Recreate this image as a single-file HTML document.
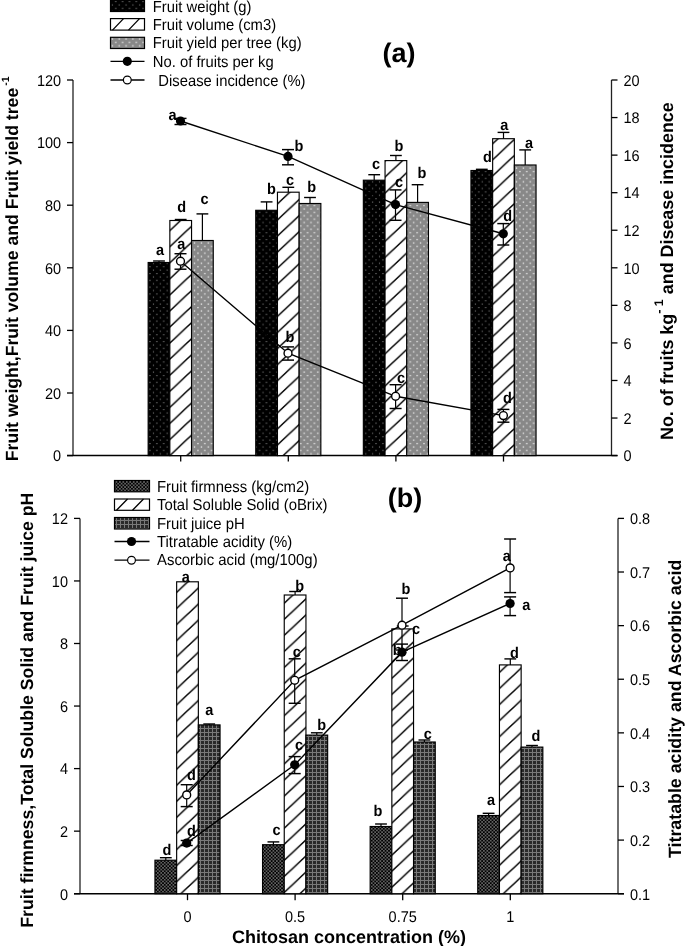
<!DOCTYPE html>
<html><head><meta charset="utf-8"><title>Chart</title>
<style>
html,body{margin:0;padding:0;background:#fff;}
body{width:685px;height:946px;overflow:hidden;}
svg{display:block;font-family:"Liberation Sans", sans-serif;text-rendering:geometricPrecision;filter:grayscale(1);}
</style></head><body>
<svg width="685" height="946" viewBox="0 0 685 946" font-family='"Liberation Sans", sans-serif'>
<defs><pattern id="ha0" patternUnits="userSpaceOnUse" width="17.096" height="16.07" x="0" y="4.538"><rect x="-1" y="-1" width="19.096" height="18.07" fill="#fff"/><path d="M-17.096,32.140 L34.191,-16.070 M-17.096,16.070 L17.096,-16.070 M0,32.140 L34.191,0" stroke="#000" stroke-width="1.5"/></pattern><pattern id="ha1" patternUnits="userSpaceOnUse" width="17.096" height="16.07" x="0" y="14.720"><rect x="-1" y="-1" width="19.096" height="18.07" fill="#fff"/><path d="M-17.096,32.140 L34.191,-16.070 M-17.096,16.070 L17.096,-16.070 M0,32.140 L34.191,0" stroke="#000" stroke-width="1.5"/></pattern><pattern id="ha2" patternUnits="userSpaceOnUse" width="17.096" height="16.07" x="0" y="8.662"><rect x="-1" y="-1" width="19.096" height="18.07" fill="#fff"/><path d="M-17.096,32.140 L34.191,-16.070 M-17.096,16.070 L17.096,-16.070 M0,32.140 L34.191,0" stroke="#000" stroke-width="1.5"/></pattern><pattern id="ha3" patternUnits="userSpaceOnUse" width="17.096" height="16.07" x="0" y="12.210"><rect x="-1" y="-1" width="19.096" height="18.07" fill="#fff"/><path d="M-17.096,32.140 L34.191,-16.070 M-17.096,16.070 L17.096,-16.070 M0,32.140 L34.191,0" stroke="#000" stroke-width="1.5"/></pattern><pattern id="hb0" patternUnits="userSpaceOnUse" width="17.096" height="16.07" x="0" y="3.112"><rect x="-1" y="-1" width="19.096" height="18.07" fill="#fff"/><path d="M-17.096,32.140 L34.191,-16.070 M-17.096,16.070 L17.096,-16.070 M0,32.140 L34.191,0" stroke="#000" stroke-width="1.5"/></pattern><pattern id="hb1" patternUnits="userSpaceOnUse" width="17.096" height="16.07" x="0" y="2.618"><rect x="-1" y="-1" width="19.096" height="18.07" fill="#fff"/><path d="M-17.096,32.140 L34.191,-16.070 M-17.096,16.070 L17.096,-16.070 M0,32.140 L34.191,0" stroke="#000" stroke-width="1.5"/></pattern><pattern id="hb2" patternUnits="userSpaceOnUse" width="17.096" height="16.07" x="0" y="2.148"><rect x="-1" y="-1" width="19.096" height="18.07" fill="#fff"/><path d="M-17.096,32.140 L34.191,-16.070 M-17.096,16.070 L17.096,-16.070 M0,32.140 L34.191,0" stroke="#000" stroke-width="1.5"/></pattern><pattern id="hb3" patternUnits="userSpaceOnUse" width="17.096" height="16.07" x="0" y="0.908"><rect x="-1" y="-1" width="19.096" height="18.07" fill="#fff"/><path d="M-17.096,32.140 L34.191,-16.070 M-17.096,16.070 L17.096,-16.070 M0,32.140 L34.191,0" stroke="#000" stroke-width="1.5"/></pattern>
 <pattern id="pBlackDot" patternUnits="userSpaceOnUse" width="6.85" height="6.8" x="0.3" y="0">
  <rect width="6.85" height="6.8" fill="#000"/>
  <rect x="5.3" y="1" width="1.1" height="1.1" fill="#8a8a8a"/>
  <rect x="1.9" y="4.4" width="1.1" height="1.1" fill="#7a7a7a"/>
 </pattern>
 <pattern id="pHatch" patternUnits="userSpaceOnUse" width="16" height="16">
  <rect width="16" height="16" fill="#fff"/>
  <path d="M-4,20 L20,-4 M-4,4 L4,-4 M12,20 L20,12" stroke="#000" stroke-width="1.3"/>
 </pattern>
 <pattern id="pGray" patternUnits="userSpaceOnUse" width="6.85" height="6.8" x="0.3" y="0">
  <rect width="6.85" height="6.8" fill="#888888"/>
  <rect x="5.2" y="0.9" width="1.3" height="1.3" fill="#f0f0f0"/>
  <rect x="1.8" y="4.3" width="1.3" height="1.3" fill="#f0f0f0"/>
 </pattern>
 <pattern id="pFirm" patternUnits="userSpaceOnUse" width="3.45" height="3.4">
  <rect width="3.45" height="3.4" fill="#000"/>
  <rect x="0.2" y="0.2" width="1.3" height="1.3" fill="#a8a8a8"/>
  <rect x="1.92" y="1.9" width="1.3" height="1.3" fill="#a8a8a8"/>
 </pattern>
 <pattern id="pPH" patternUnits="userSpaceOnUse" width="4" height="4">
  <rect width="4" height="4" fill="#2a2a2a"/>
  <rect x="0" y="0" width="4" height="1" fill="#7a7a7a"/>
  <rect x="0" y="0" width="1" height="4" fill="#7a7a7a"/>
 </pattern>
</defs>

<rect width="685" height="946" fill="#fff"/>
<line x1="73.00" y1="80.00" x2="73.00" y2="455.60" stroke="#222" stroke-width="1.3"/>
<line x1="611.50" y1="80.00" x2="611.50" y2="455.60" stroke="#222" stroke-width="1.3"/>
<line x1="67.00" y1="455.60" x2="617.50" y2="455.60" stroke="#000" stroke-width="1.5"/>
<line x1="67.00" y1="455.60" x2="73.00" y2="455.60" stroke="#000" stroke-width="1.3"/>
<text transform="translate(61.10,461.40) scale(0.9346,1)" font-size="15.52" font-weight="normal" text-anchor="end" >0</text>
<line x1="67.00" y1="393.00" x2="73.00" y2="393.00" stroke="#000" stroke-width="1.3"/>
<text transform="translate(61.10,398.80) scale(0.9346,1)" font-size="15.52" font-weight="normal" text-anchor="end" >20</text>
<line x1="67.00" y1="330.40" x2="73.00" y2="330.40" stroke="#000" stroke-width="1.3"/>
<text transform="translate(61.10,336.20) scale(0.9346,1)" font-size="15.52" font-weight="normal" text-anchor="end" >40</text>
<line x1="67.00" y1="267.80" x2="73.00" y2="267.80" stroke="#000" stroke-width="1.3"/>
<text transform="translate(61.10,273.60) scale(0.9346,1)" font-size="15.52" font-weight="normal" text-anchor="end" >60</text>
<line x1="67.00" y1="205.20" x2="73.00" y2="205.20" stroke="#000" stroke-width="1.3"/>
<text transform="translate(61.10,211.00) scale(0.9346,1)" font-size="15.52" font-weight="normal" text-anchor="end" >80</text>
<line x1="67.00" y1="142.60" x2="73.00" y2="142.60" stroke="#000" stroke-width="1.3"/>
<text transform="translate(61.10,148.40) scale(0.9346,1)" font-size="15.52" font-weight="normal" text-anchor="end" >100</text>
<line x1="67.00" y1="80.00" x2="73.00" y2="80.00" stroke="#000" stroke-width="1.3"/>
<text transform="translate(61.10,85.80) scale(0.9346,1)" font-size="15.52" font-weight="normal" text-anchor="end" >120</text>
<line x1="611.50" y1="455.60" x2="617.50" y2="455.60" stroke="#000" stroke-width="1.3"/>
<text transform="translate(623.50,461.40) scale(0.9346,1)" font-size="15.52" font-weight="normal" text-anchor="start" >0</text>
<line x1="611.50" y1="418.04" x2="617.50" y2="418.04" stroke="#000" stroke-width="1.3"/>
<text transform="translate(623.50,423.84) scale(0.9346,1)" font-size="15.52" font-weight="normal" text-anchor="start" >2</text>
<line x1="611.50" y1="380.48" x2="617.50" y2="380.48" stroke="#000" stroke-width="1.3"/>
<text transform="translate(623.50,386.28) scale(0.9346,1)" font-size="15.52" font-weight="normal" text-anchor="start" >4</text>
<line x1="611.50" y1="342.92" x2="617.50" y2="342.92" stroke="#000" stroke-width="1.3"/>
<text transform="translate(623.50,348.72) scale(0.9346,1)" font-size="15.52" font-weight="normal" text-anchor="start" >6</text>
<line x1="611.50" y1="305.36" x2="617.50" y2="305.36" stroke="#000" stroke-width="1.3"/>
<text transform="translate(623.50,311.16) scale(0.9346,1)" font-size="15.52" font-weight="normal" text-anchor="start" >8</text>
<line x1="611.50" y1="267.80" x2="617.50" y2="267.80" stroke="#000" stroke-width="1.3"/>
<text transform="translate(623.50,273.60) scale(0.9346,1)" font-size="15.52" font-weight="normal" text-anchor="start" >10</text>
<line x1="611.50" y1="230.24" x2="617.50" y2="230.24" stroke="#000" stroke-width="1.3"/>
<text transform="translate(623.50,236.04) scale(0.9346,1)" font-size="15.52" font-weight="normal" text-anchor="start" >12</text>
<line x1="611.50" y1="192.68" x2="617.50" y2="192.68" stroke="#000" stroke-width="1.3"/>
<text transform="translate(623.50,198.48) scale(0.9346,1)" font-size="15.52" font-weight="normal" text-anchor="start" >14</text>
<line x1="611.50" y1="155.12" x2="617.50" y2="155.12" stroke="#000" stroke-width="1.3"/>
<text transform="translate(623.50,160.92) scale(0.9346,1)" font-size="15.52" font-weight="normal" text-anchor="start" >16</text>
<line x1="611.50" y1="117.56" x2="617.50" y2="117.56" stroke="#000" stroke-width="1.3"/>
<text transform="translate(623.50,123.36) scale(0.9346,1)" font-size="15.52" font-weight="normal" text-anchor="start" >18</text>
<line x1="611.50" y1="80.00" x2="617.50" y2="80.00" stroke="#000" stroke-width="1.3"/>
<text transform="translate(623.50,85.80) scale(0.9346,1)" font-size="15.52" font-weight="normal" text-anchor="start" >20</text>
<line x1="180.70" y1="455.60" x2="180.70" y2="461.60" stroke="#000" stroke-width="1.3"/>
<line x1="288.30" y1="455.60" x2="288.30" y2="461.60" stroke="#000" stroke-width="1.3"/>
<line x1="395.90" y1="455.60" x2="395.90" y2="461.60" stroke="#000" stroke-width="1.3"/>
<line x1="503.50" y1="455.60" x2="503.50" y2="461.60" stroke="#000" stroke-width="1.3"/>
<rect x="148.15" y="262.50" width="21.70" height="193.10" fill="url(#pBlackDot)"/>
<rect x="148.15" y="262.50" width="21.70" height="193.10" fill="none" stroke="#000" stroke-width="1.15"/>
<line x1="159.00" y1="261.00" x2="159.00" y2="262.50" stroke="#000" stroke-width="1.2"/>
<line x1="153.10" y1="261.00" x2="164.90" y2="261.00" stroke="#000" stroke-width="1.4"/>
<rect x="169.85" y="220.50" width="21.70" height="235.10" fill="url(#ha0)"/>
<rect x="169.85" y="220.50" width="21.70" height="235.10" fill="none" stroke="#000" stroke-width="1.15"/>
<line x1="180.70" y1="219.50" x2="180.70" y2="220.50" stroke="#000" stroke-width="1.2"/>
<line x1="174.80" y1="219.50" x2="186.60" y2="219.50" stroke="#000" stroke-width="1.4"/>
<rect x="191.55" y="240.50" width="21.70" height="215.10" fill="url(#pGray)"/>
<rect x="191.55" y="240.50" width="21.70" height="215.10" fill="none" stroke="#000" stroke-width="1.15"/>
<line x1="202.40" y1="213.90" x2="202.40" y2="240.50" stroke="#000" stroke-width="1.2"/>
<line x1="196.50" y1="213.90" x2="208.30" y2="213.90" stroke="#000" stroke-width="1.4"/>
<rect x="255.75" y="210.30" width="21.70" height="245.30" fill="url(#pBlackDot)"/>
<rect x="255.75" y="210.30" width="21.70" height="245.30" fill="none" stroke="#000" stroke-width="1.15"/>
<line x1="266.60" y1="201.90" x2="266.60" y2="210.30" stroke="#000" stroke-width="1.2"/>
<line x1="260.70" y1="201.90" x2="272.50" y2="201.90" stroke="#000" stroke-width="1.4"/>
<rect x="277.45" y="192.20" width="21.70" height="263.40" fill="url(#ha1)"/>
<rect x="277.45" y="192.20" width="21.70" height="263.40" fill="none" stroke="#000" stroke-width="1.15"/>
<line x1="288.30" y1="187.30" x2="288.30" y2="192.20" stroke="#000" stroke-width="1.2"/>
<line x1="282.40" y1="187.30" x2="294.20" y2="187.30" stroke="#000" stroke-width="1.4"/>
<rect x="299.15" y="203.50" width="21.70" height="252.10" fill="url(#pGray)"/>
<rect x="299.15" y="203.50" width="21.70" height="252.10" fill="none" stroke="#000" stroke-width="1.15"/>
<line x1="310.00" y1="197.50" x2="310.00" y2="203.50" stroke="#000" stroke-width="1.2"/>
<line x1="304.10" y1="197.50" x2="315.90" y2="197.50" stroke="#000" stroke-width="1.4"/>
<rect x="363.35" y="180.20" width="21.70" height="275.40" fill="url(#pBlackDot)"/>
<rect x="363.35" y="180.20" width="21.70" height="275.40" fill="none" stroke="#000" stroke-width="1.15"/>
<line x1="374.20" y1="174.70" x2="374.20" y2="180.20" stroke="#000" stroke-width="1.2"/>
<line x1="368.30" y1="174.70" x2="380.10" y2="174.70" stroke="#000" stroke-width="1.4"/>
<rect x="385.05" y="160.60" width="21.70" height="295.00" fill="url(#ha2)"/>
<rect x="385.05" y="160.60" width="21.70" height="295.00" fill="none" stroke="#000" stroke-width="1.15"/>
<line x1="395.90" y1="155.50" x2="395.90" y2="160.60" stroke="#000" stroke-width="1.2"/>
<line x1="390.00" y1="155.50" x2="401.80" y2="155.50" stroke="#000" stroke-width="1.4"/>
<rect x="406.75" y="202.40" width="21.70" height="253.20" fill="url(#pGray)"/>
<rect x="406.75" y="202.40" width="21.70" height="253.20" fill="none" stroke="#000" stroke-width="1.15"/>
<line x1="417.60" y1="184.70" x2="417.60" y2="202.40" stroke="#000" stroke-width="1.2"/>
<line x1="411.70" y1="184.70" x2="423.50" y2="184.70" stroke="#000" stroke-width="1.4"/>
<rect x="470.95" y="170.50" width="21.70" height="285.10" fill="url(#pBlackDot)"/>
<rect x="470.95" y="170.50" width="21.70" height="285.10" fill="none" stroke="#000" stroke-width="1.15"/>
<line x1="481.80" y1="169.30" x2="481.80" y2="170.50" stroke="#000" stroke-width="1.2"/>
<line x1="475.90" y1="169.30" x2="487.70" y2="169.30" stroke="#000" stroke-width="1.4"/>
<rect x="492.65" y="138.70" width="21.70" height="316.90" fill="url(#ha3)"/>
<rect x="492.65" y="138.70" width="21.70" height="316.90" fill="none" stroke="#000" stroke-width="1.15"/>
<line x1="503.50" y1="132.40" x2="503.50" y2="138.70" stroke="#000" stroke-width="1.2"/>
<line x1="497.60" y1="132.40" x2="509.40" y2="132.40" stroke="#000" stroke-width="1.4"/>
<rect x="514.35" y="165.00" width="21.70" height="290.60" fill="url(#pGray)"/>
<rect x="514.35" y="165.00" width="21.70" height="290.60" fill="none" stroke="#000" stroke-width="1.15"/>
<line x1="525.20" y1="149.90" x2="525.20" y2="165.00" stroke="#000" stroke-width="1.2"/>
<line x1="519.30" y1="149.90" x2="531.10" y2="149.90" stroke="#000" stroke-width="1.4"/>
<path d="M180.50,121.00 L288.00,156.40 L395.50,204.60 L503.30,233.80" fill="none" stroke="#000" stroke-width="1.4"/>
<line x1="180.50" y1="118.40" x2="180.50" y2="124.50" stroke="#000" stroke-width="1.2"/>
<line x1="174.50" y1="118.40" x2="186.50" y2="118.40" stroke="#000" stroke-width="1.45"/>
<line x1="174.50" y1="124.50" x2="186.50" y2="124.50" stroke="#000" stroke-width="1.45"/>
<line x1="288.00" y1="149.60" x2="288.00" y2="164.80" stroke="#000" stroke-width="1.2"/>
<line x1="282.00" y1="149.60" x2="294.00" y2="149.60" stroke="#000" stroke-width="1.45"/>
<line x1="282.00" y1="164.80" x2="294.00" y2="164.80" stroke="#000" stroke-width="1.45"/>
<line x1="395.50" y1="189.90" x2="395.50" y2="220.30" stroke="#000" stroke-width="1.2"/>
<line x1="389.50" y1="189.90" x2="401.50" y2="189.90" stroke="#000" stroke-width="1.45"/>
<line x1="389.50" y1="220.30" x2="401.50" y2="220.30" stroke="#000" stroke-width="1.45"/>
<line x1="503.30" y1="223.60" x2="503.30" y2="245.00" stroke="#000" stroke-width="1.2"/>
<line x1="497.30" y1="223.60" x2="509.30" y2="223.60" stroke="#000" stroke-width="1.45"/>
<line x1="497.30" y1="245.00" x2="509.30" y2="245.00" stroke="#000" stroke-width="1.45"/>
<circle cx="180.50" cy="121.00" r="4.6" fill="#000"/>
<circle cx="288.00" cy="156.40" r="4.6" fill="#000"/>
<circle cx="395.50" cy="204.60" r="4.6" fill="#000"/>
<circle cx="503.30" cy="233.80" r="4.6" fill="#000"/>
<path d="M180.50,261.20 L288.00,353.20 L395.60,396.30 L503.40,415.60" fill="none" stroke="#000" stroke-width="1.4"/>
<line x1="180.50" y1="253.70" x2="180.50" y2="269.20" stroke="#000" stroke-width="1.2"/>
<line x1="174.50" y1="253.70" x2="186.50" y2="253.70" stroke="#000" stroke-width="1.45"/>
<line x1="174.50" y1="269.20" x2="186.50" y2="269.20" stroke="#000" stroke-width="1.45"/>
<line x1="288.00" y1="346.90" x2="288.00" y2="360.10" stroke="#000" stroke-width="1.2"/>
<line x1="282.00" y1="346.90" x2="294.00" y2="346.90" stroke="#000" stroke-width="1.45"/>
<line x1="282.00" y1="360.10" x2="294.00" y2="360.10" stroke="#000" stroke-width="1.45"/>
<line x1="395.60" y1="384.70" x2="395.60" y2="408.50" stroke="#000" stroke-width="1.2"/>
<line x1="389.60" y1="384.70" x2="401.60" y2="384.70" stroke="#000" stroke-width="1.45"/>
<line x1="389.60" y1="408.50" x2="401.60" y2="408.50" stroke="#000" stroke-width="1.45"/>
<line x1="503.40" y1="409.40" x2="503.40" y2="422.20" stroke="#000" stroke-width="1.2"/>
<line x1="497.40" y1="409.40" x2="509.40" y2="409.40" stroke="#000" stroke-width="1.45"/>
<line x1="497.40" y1="422.20" x2="509.40" y2="422.20" stroke="#000" stroke-width="1.45"/>
<circle cx="180.50" cy="261.20" r="3.95" fill="#fff" stroke="#000" stroke-width="1.4"/>
<circle cx="288.00" cy="353.20" r="3.95" fill="#fff" stroke="#000" stroke-width="1.4"/>
<circle cx="395.60" cy="396.30" r="3.95" fill="#fff" stroke="#000" stroke-width="1.4"/>
<circle cx="503.40" cy="415.60" r="3.95" fill="#fff" stroke="#000" stroke-width="1.4"/>
<text transform="translate(160.00,255.30) scale(0.9346,1)" font-size="15.52" font-weight="bold" text-anchor="middle" >a</text>
<text transform="translate(181.70,212.40) scale(0.9346,1)" font-size="15.52" font-weight="bold" text-anchor="middle" >d</text>
<text transform="translate(204.50,204.30) scale(0.9346,1)" font-size="15.52" font-weight="bold" text-anchor="middle" >c</text>
<text transform="translate(271.30,194.40) scale(0.9346,1)" font-size="15.52" font-weight="bold" text-anchor="middle" >b</text>
<text transform="translate(290.00,185.20) scale(0.9346,1)" font-size="15.52" font-weight="bold" text-anchor="middle" >c</text>
<text transform="translate(311.60,192.40) scale(0.9346,1)" font-size="15.52" font-weight="bold" text-anchor="middle" >b</text>
<text transform="translate(376.00,169.10) scale(0.9346,1)" font-size="15.52" font-weight="bold" text-anchor="middle" >c</text>
<text transform="translate(399.00,151.20) scale(0.9346,1)" font-size="15.52" font-weight="bold" text-anchor="middle" >b</text>
<text transform="translate(421.80,177.80) scale(0.9346,1)" font-size="15.52" font-weight="bold" text-anchor="middle" >b</text>
<text transform="translate(487.40,162.40) scale(0.9346,1)" font-size="15.52" font-weight="bold" text-anchor="middle" >d</text>
<text transform="translate(504.40,130.00) scale(0.9346,1)" font-size="15.52" font-weight="bold" text-anchor="middle" >a</text>
<text transform="translate(529.00,147.50) scale(0.9346,1)" font-size="15.52" font-weight="bold" text-anchor="middle" >a</text>
<text transform="translate(172.50,120.30) scale(0.9346,1)" font-size="15.52" font-weight="bold" text-anchor="middle" >a</text>
<text transform="translate(298.80,151.40) scale(0.9346,1)" font-size="15.52" font-weight="bold" text-anchor="middle" >b</text>
<text transform="translate(399.00,187.30) scale(0.9346,1)" font-size="15.52" font-weight="bold" text-anchor="middle" >c</text>
<text transform="translate(507.60,220.70) scale(0.9346,1)" font-size="15.52" font-weight="bold" text-anchor="middle" >d</text>
<text transform="translate(181.40,248.70) scale(0.9346,1)" font-size="15.52" font-weight="bold" text-anchor="middle" >a</text>
<text transform="translate(290.00,341.80) scale(0.9346,1)" font-size="15.52" font-weight="bold" text-anchor="middle" >b</text>
<text transform="translate(401.00,383.30) scale(0.9346,1)" font-size="15.52" font-weight="bold" text-anchor="middle" >c</text>
<text transform="translate(507.30,403.30) scale(0.9346,1)" font-size="15.52" font-weight="bold" text-anchor="middle" >d</text>
<rect x="110.5" y="0" width="34.0" height="11.5" fill="url(#pBlackDot)" stroke="#000" stroke-width="1.2"/>
<rect x="110.5" y="18.6" width="34.0" height="11.5" fill="#fff" stroke="#000" stroke-width="1.2"/>
<path d="M112.5,30.1 L123.5,18.6 M128.5,30.1 L139.5,18.6" stroke="#000" stroke-width="1.3"/>
<rect x="110.5" y="37.3" width="34.0" height="11.2" fill="url(#pGray)" stroke="#000" stroke-width="1.2"/>
<line x1="110.50" y1="61.30" x2="144.50" y2="61.30" stroke="#000" stroke-width="1.3"/>
<circle cx="127.3" cy="61.3" r="4.6" fill="#000"/>
<line x1="110.50" y1="80.00" x2="144.50" y2="80.00" stroke="#000" stroke-width="1.3"/>
<circle cx="127.3" cy="80.0" r="3.9" fill="#fff" stroke="#000" stroke-width="1.2"/>
<text transform="translate(152.80,11.90) scale(0.9346,1)" font-size="15.84" font-weight="normal" text-anchor="start" >Fruit weight (g)</text>
<text transform="translate(152.80,30.30) scale(0.9346,1)" font-size="15.84" font-weight="normal" text-anchor="start" >Fruit volume (cm3)</text>
<text transform="translate(152.80,48.40) scale(0.9346,1)" font-size="15.84" font-weight="normal" text-anchor="start" >Fruit yield per tree (kg)</text>
<text transform="translate(152.80,67.00) scale(0.9346,1)" font-size="15.84" font-weight="normal" text-anchor="start" >No. of fruits per kg</text>
<text transform="translate(154.20,85.60) scale(0.9346,1)" font-size="15.84" font-weight="normal" text-anchor="start" >&#160;Disease incidence (%)</text>
<text transform="translate(399.00,61.70) scale(1.0000,1)" font-size="27.00" font-weight="bold" text-anchor="middle" >(a)</text>
<text transform="translate(18.3,461.2) rotate(-90)" font-size="17.65" font-weight="bold">Fruit weight,Fruit volume and Fruit yield tree<tspan font-size="10.5" dx="2" dy="-9.7">-1</tspan></text>
<text transform="translate(673.2,440.0) rotate(-90)" font-size="17.9" font-weight="bold">No. of fruits kg<tspan font-size="12.5" dy="-10.2">- 1</tspan><tspan dy="10.2"> and Disease incidence</tspan></text>
<line x1="80.00" y1="518.40" x2="80.00" y2="893.70" stroke="#222" stroke-width="1.3"/>
<line x1="618.00" y1="518.40" x2="618.00" y2="893.70" stroke="#222" stroke-width="1.3"/>
<line x1="74.00" y1="893.70" x2="624.00" y2="893.70" stroke="#000" stroke-width="1.5"/>
<line x1="74.00" y1="893.70" x2="80.00" y2="893.70" stroke="#000" stroke-width="1.3"/>
<text transform="translate(68.00,899.50) scale(0.9346,1)" font-size="15.52" font-weight="normal" text-anchor="end" >0</text>
<line x1="74.00" y1="831.15" x2="80.00" y2="831.15" stroke="#000" stroke-width="1.3"/>
<text transform="translate(68.00,836.95) scale(0.9346,1)" font-size="15.52" font-weight="normal" text-anchor="end" >2</text>
<line x1="74.00" y1="768.60" x2="80.00" y2="768.60" stroke="#000" stroke-width="1.3"/>
<text transform="translate(68.00,774.40) scale(0.9346,1)" font-size="15.52" font-weight="normal" text-anchor="end" >4</text>
<line x1="74.00" y1="706.05" x2="80.00" y2="706.05" stroke="#000" stroke-width="1.3"/>
<text transform="translate(68.00,711.85) scale(0.9346,1)" font-size="15.52" font-weight="normal" text-anchor="end" >6</text>
<line x1="74.00" y1="643.50" x2="80.00" y2="643.50" stroke="#000" stroke-width="1.3"/>
<text transform="translate(68.00,649.30) scale(0.9346,1)" font-size="15.52" font-weight="normal" text-anchor="end" >8</text>
<line x1="74.00" y1="580.95" x2="80.00" y2="580.95" stroke="#000" stroke-width="1.3"/>
<text transform="translate(68.00,586.75) scale(0.9346,1)" font-size="15.52" font-weight="normal" text-anchor="end" >10</text>
<line x1="74.00" y1="518.40" x2="80.00" y2="518.40" stroke="#000" stroke-width="1.3"/>
<text transform="translate(68.00,524.20) scale(0.9346,1)" font-size="15.52" font-weight="normal" text-anchor="end" >12</text>
<line x1="618.00" y1="893.70" x2="624.00" y2="893.70" stroke="#000" stroke-width="1.3"/>
<text transform="translate(630.00,899.50) scale(0.9346,1)" font-size="15.52" font-weight="normal" text-anchor="start" >0.1</text>
<line x1="618.00" y1="840.09" x2="624.00" y2="840.09" stroke="#000" stroke-width="1.3"/>
<text transform="translate(630.00,845.89) scale(0.9346,1)" font-size="15.52" font-weight="normal" text-anchor="start" >0.2</text>
<line x1="618.00" y1="786.47" x2="624.00" y2="786.47" stroke="#000" stroke-width="1.3"/>
<text transform="translate(630.00,792.27) scale(0.9346,1)" font-size="15.52" font-weight="normal" text-anchor="start" >0.3</text>
<line x1="618.00" y1="732.86" x2="624.00" y2="732.86" stroke="#000" stroke-width="1.3"/>
<text transform="translate(630.00,738.66) scale(0.9346,1)" font-size="15.52" font-weight="normal" text-anchor="start" >0.4</text>
<line x1="618.00" y1="679.24" x2="624.00" y2="679.24" stroke="#000" stroke-width="1.3"/>
<text transform="translate(630.00,685.04) scale(0.9346,1)" font-size="15.52" font-weight="normal" text-anchor="start" >0.5</text>
<line x1="618.00" y1="625.63" x2="624.00" y2="625.63" stroke="#000" stroke-width="1.3"/>
<text transform="translate(630.00,631.43) scale(0.9346,1)" font-size="15.52" font-weight="normal" text-anchor="start" >0.6</text>
<line x1="618.00" y1="572.01" x2="624.00" y2="572.01" stroke="#000" stroke-width="1.3"/>
<text transform="translate(630.00,577.81) scale(0.9346,1)" font-size="15.52" font-weight="normal" text-anchor="start" >0.7</text>
<line x1="618.00" y1="518.40" x2="624.00" y2="518.40" stroke="#000" stroke-width="1.3"/>
<text transform="translate(630.00,524.20) scale(0.9346,1)" font-size="15.52" font-weight="normal" text-anchor="start" >0.8</text>
<line x1="187.50" y1="893.70" x2="187.50" y2="900.20" stroke="#000" stroke-width="1.3"/>
<line x1="295.10" y1="893.70" x2="295.10" y2="900.20" stroke="#000" stroke-width="1.3"/>
<line x1="402.70" y1="893.70" x2="402.70" y2="900.20" stroke="#000" stroke-width="1.3"/>
<line x1="510.30" y1="893.70" x2="510.30" y2="900.20" stroke="#000" stroke-width="1.3"/>
<text transform="translate(187.50,921.50) scale(0.9346,1)" font-size="15.52" font-weight="normal" text-anchor="middle" >0</text>
<text transform="translate(295.10,921.50) scale(0.9346,1)" font-size="15.52" font-weight="normal" text-anchor="middle" >0.5</text>
<text transform="translate(402.70,921.50) scale(0.9346,1)" font-size="15.52" font-weight="normal" text-anchor="middle" >0.75</text>
<text transform="translate(510.30,921.50) scale(0.9346,1)" font-size="15.52" font-weight="normal" text-anchor="middle" >1</text>
<text transform="translate(349.00,942.50) scale(1.0000,1)" font-size="18.00" font-weight="bold" text-anchor="middle" >Chitosan concentration (%)</text>
<rect x="154.95" y="860.20" width="21.70" height="33.50" fill="url(#pFirm)"/>
<rect x="154.95" y="860.20" width="21.70" height="33.50" fill="none" stroke="#000" stroke-width="1.15"/>
<line x1="165.80" y1="857.70" x2="165.80" y2="860.20" stroke="#000" stroke-width="1.2"/>
<line x1="159.90" y1="857.70" x2="171.70" y2="857.70" stroke="#000" stroke-width="1.4"/>
<rect x="176.65" y="581.80" width="21.70" height="311.90" fill="url(#hb0)"/>
<rect x="176.65" y="581.80" width="21.70" height="311.90" fill="none" stroke="#000" stroke-width="1.15"/>
<rect x="198.35" y="724.90" width="21.70" height="168.80" fill="url(#pPH)"/>
<rect x="198.35" y="724.90" width="21.70" height="168.80" fill="none" stroke="#000" stroke-width="1.15"/>
<line x1="209.20" y1="724.00" x2="209.20" y2="724.90" stroke="#000" stroke-width="1.2"/>
<line x1="203.30" y1="724.00" x2="215.10" y2="724.00" stroke="#000" stroke-width="1.4"/>
<rect x="262.55" y="844.70" width="21.70" height="49.00" fill="url(#pFirm)"/>
<rect x="262.55" y="844.70" width="21.70" height="49.00" fill="none" stroke="#000" stroke-width="1.15"/>
<line x1="273.40" y1="841.90" x2="273.40" y2="844.70" stroke="#000" stroke-width="1.2"/>
<line x1="267.50" y1="841.90" x2="279.30" y2="841.90" stroke="#000" stroke-width="1.4"/>
<rect x="284.25" y="595.00" width="21.70" height="298.70" fill="url(#hb1)"/>
<rect x="284.25" y="595.00" width="21.70" height="298.70" fill="none" stroke="#000" stroke-width="1.15"/>
<line x1="295.10" y1="591.50" x2="295.10" y2="595.00" stroke="#000" stroke-width="1.2"/>
<line x1="289.20" y1="591.50" x2="301.00" y2="591.50" stroke="#000" stroke-width="1.4"/>
<rect x="305.95" y="735.10" width="21.70" height="158.60" fill="url(#pPH)"/>
<rect x="305.95" y="735.10" width="21.70" height="158.60" fill="none" stroke="#000" stroke-width="1.15"/>
<line x1="316.80" y1="732.80" x2="316.80" y2="735.10" stroke="#000" stroke-width="1.2"/>
<line x1="310.90" y1="732.80" x2="322.70" y2="732.80" stroke="#000" stroke-width="1.4"/>
<rect x="370.15" y="826.50" width="21.70" height="67.20" fill="url(#pFirm)"/>
<rect x="370.15" y="826.50" width="21.70" height="67.20" fill="none" stroke="#000" stroke-width="1.15"/>
<line x1="381.00" y1="824.00" x2="381.00" y2="826.50" stroke="#000" stroke-width="1.2"/>
<line x1="375.10" y1="824.00" x2="386.90" y2="824.00" stroke="#000" stroke-width="1.4"/>
<rect x="391.85" y="628.90" width="21.70" height="264.80" fill="url(#hb2)"/>
<rect x="391.85" y="628.90" width="21.70" height="264.80" fill="none" stroke="#000" stroke-width="1.15"/>
<line x1="402.70" y1="626.00" x2="402.70" y2="628.90" stroke="#000" stroke-width="1.2"/>
<line x1="396.80" y1="626.00" x2="408.60" y2="626.00" stroke="#000" stroke-width="1.4"/>
<rect x="413.55" y="742.00" width="21.70" height="151.70" fill="url(#pPH)"/>
<rect x="413.55" y="742.00" width="21.70" height="151.70" fill="none" stroke="#000" stroke-width="1.15"/>
<line x1="424.40" y1="740.00" x2="424.40" y2="742.00" stroke="#000" stroke-width="1.2"/>
<line x1="418.50" y1="740.00" x2="430.30" y2="740.00" stroke="#000" stroke-width="1.4"/>
<rect x="477.75" y="815.50" width="21.70" height="78.20" fill="url(#pFirm)"/>
<rect x="477.75" y="815.50" width="21.70" height="78.20" fill="none" stroke="#000" stroke-width="1.15"/>
<line x1="488.60" y1="813.30" x2="488.60" y2="815.50" stroke="#000" stroke-width="1.2"/>
<line x1="482.70" y1="813.30" x2="494.50" y2="813.30" stroke="#000" stroke-width="1.4"/>
<rect x="499.45" y="664.90" width="21.70" height="228.80" fill="url(#hb3)"/>
<rect x="499.45" y="664.90" width="21.70" height="228.80" fill="none" stroke="#000" stroke-width="1.15"/>
<line x1="510.30" y1="658.90" x2="510.30" y2="664.90" stroke="#000" stroke-width="1.2"/>
<line x1="504.40" y1="658.90" x2="516.20" y2="658.90" stroke="#000" stroke-width="1.4"/>
<rect x="521.15" y="747.10" width="21.70" height="146.60" fill="url(#pPH)"/>
<rect x="521.15" y="747.10" width="21.70" height="146.60" fill="none" stroke="#000" stroke-width="1.15"/>
<line x1="532.00" y1="745.50" x2="532.00" y2="747.10" stroke="#000" stroke-width="1.2"/>
<line x1="526.10" y1="745.50" x2="537.90" y2="745.50" stroke="#000" stroke-width="1.4"/>
<path d="M186.70,843.10 L294.70,764.80 L402.00,652.20 L510.10,603.50" fill="none" stroke="#000" stroke-width="1.4"/>
<line x1="186.70" y1="840.50" x2="186.70" y2="845.50" stroke="#000" stroke-width="1.2"/>
<line x1="180.70" y1="840.50" x2="192.70" y2="840.50" stroke="#000" stroke-width="1.45"/>
<line x1="180.70" y1="845.50" x2="192.70" y2="845.50" stroke="#000" stroke-width="1.45"/>
<line x1="294.70" y1="756.60" x2="294.70" y2="773.60" stroke="#000" stroke-width="1.2"/>
<line x1="288.70" y1="756.60" x2="300.70" y2="756.60" stroke="#000" stroke-width="1.45"/>
<line x1="288.70" y1="773.60" x2="300.70" y2="773.60" stroke="#000" stroke-width="1.45"/>
<line x1="402.00" y1="644.10" x2="402.00" y2="660.50" stroke="#000" stroke-width="1.2"/>
<line x1="396.00" y1="644.10" x2="408.00" y2="644.10" stroke="#000" stroke-width="1.45"/>
<line x1="396.00" y1="660.50" x2="408.00" y2="660.50" stroke="#000" stroke-width="1.45"/>
<line x1="510.10" y1="596.90" x2="510.10" y2="615.60" stroke="#000" stroke-width="1.2"/>
<line x1="504.10" y1="596.90" x2="516.10" y2="596.90" stroke="#000" stroke-width="1.45"/>
<line x1="504.10" y1="615.60" x2="516.10" y2="615.60" stroke="#000" stroke-width="1.45"/>
<circle cx="186.70" cy="843.10" r="4.6" fill="#000"/>
<circle cx="294.70" cy="764.80" r="4.6" fill="#000"/>
<circle cx="402.00" cy="652.20" r="4.6" fill="#000"/>
<circle cx="510.10" cy="603.50" r="4.6" fill="#000"/>
<path d="M186.70,794.90 L294.70,680.30 L402.00,625.20 L510.10,567.90" fill="none" stroke="#000" stroke-width="1.4"/>
<line x1="186.70" y1="784.70" x2="186.70" y2="806.60" stroke="#000" stroke-width="1.2"/>
<line x1="180.70" y1="784.70" x2="192.70" y2="784.70" stroke="#000" stroke-width="1.45"/>
<line x1="180.70" y1="806.60" x2="192.70" y2="806.60" stroke="#000" stroke-width="1.45"/>
<line x1="294.70" y1="658.80" x2="294.70" y2="703.30" stroke="#000" stroke-width="1.2"/>
<line x1="288.70" y1="658.80" x2="300.70" y2="658.80" stroke="#000" stroke-width="1.45"/>
<line x1="288.70" y1="703.30" x2="300.70" y2="703.30" stroke="#000" stroke-width="1.45"/>
<line x1="402.00" y1="598.20" x2="402.00" y2="650.00" stroke="#000" stroke-width="1.2"/>
<line x1="396.00" y1="598.20" x2="408.00" y2="598.20" stroke="#000" stroke-width="1.45"/>
<line x1="396.00" y1="650.00" x2="408.00" y2="650.00" stroke="#000" stroke-width="1.45"/>
<line x1="510.10" y1="539.00" x2="510.10" y2="592.60" stroke="#000" stroke-width="1.2"/>
<line x1="504.10" y1="539.00" x2="516.10" y2="539.00" stroke="#000" stroke-width="1.45"/>
<line x1="504.10" y1="592.60" x2="516.10" y2="592.60" stroke="#000" stroke-width="1.45"/>
<circle cx="186.70" cy="794.90" r="3.95" fill="#fff" stroke="#000" stroke-width="1.4"/>
<circle cx="294.70" cy="680.30" r="3.95" fill="#fff" stroke="#000" stroke-width="1.4"/>
<circle cx="402.00" cy="625.20" r="3.95" fill="#fff" stroke="#000" stroke-width="1.4"/>
<circle cx="510.10" cy="567.90" r="3.95" fill="#fff" stroke="#000" stroke-width="1.4"/>
<text transform="translate(166.90,854.90) scale(0.9346,1)" font-size="15.52" font-weight="bold" text-anchor="middle" >d</text>
<text transform="translate(185.80,581.80) scale(0.9346,1)" font-size="15.52" font-weight="bold" text-anchor="middle" >a</text>
<text transform="translate(209.20,715.30) scale(0.9346,1)" font-size="15.52" font-weight="bold" text-anchor="middle" >a</text>
<text transform="translate(276.60,834.80) scale(0.9346,1)" font-size="15.52" font-weight="bold" text-anchor="middle" >c</text>
<text transform="translate(299.70,590.80) scale(0.9346,1)" font-size="15.52" font-weight="bold" text-anchor="middle" >b</text>
<text transform="translate(321.60,729.50) scale(0.9346,1)" font-size="15.52" font-weight="bold" text-anchor="middle" >b</text>
<text transform="translate(377.90,816.10) scale(0.9346,1)" font-size="15.52" font-weight="bold" text-anchor="middle" >b</text>
<text transform="translate(416.00,634.30) scale(0.9346,1)" font-size="15.52" font-weight="bold" text-anchor="middle" >c</text>
<text transform="translate(427.70,738.70) scale(0.9346,1)" font-size="15.52" font-weight="bold" text-anchor="middle" >c</text>
<text transform="translate(491.00,805.30) scale(0.9346,1)" font-size="15.52" font-weight="bold" text-anchor="middle" >a</text>
<text transform="translate(514.40,657.90) scale(0.9346,1)" font-size="15.52" font-weight="bold" text-anchor="middle" >d</text>
<text transform="translate(535.90,741.40) scale(0.9346,1)" font-size="15.52" font-weight="bold" text-anchor="middle" >d</text>
<text transform="translate(191.40,836.40) scale(0.9346,1)" font-size="15.52" font-weight="bold" text-anchor="middle" >d</text>
<text transform="translate(299.10,749.60) scale(0.9346,1)" font-size="15.52" font-weight="bold" text-anchor="middle" >c</text>
<text transform="translate(397.20,655.40) scale(0.9346,1)" font-size="15.52" font-weight="bold" text-anchor="middle" >b</text>
<text transform="translate(526.40,609.70) scale(0.9346,1)" font-size="15.52" font-weight="bold" text-anchor="middle" >a</text>
<text transform="translate(191.40,779.90) scale(0.9346,1)" font-size="15.52" font-weight="bold" text-anchor="middle" >d</text>
<text transform="translate(296.80,656.50) scale(0.9346,1)" font-size="15.52" font-weight="bold" text-anchor="middle" >c</text>
<text transform="translate(405.80,593.70) scale(0.9346,1)" font-size="15.52" font-weight="bold" text-anchor="middle" >b</text>
<text transform="translate(506.70,560.80) scale(0.9346,1)" font-size="15.52" font-weight="bold" text-anchor="middle" >a</text>
<rect x="114.5" y="480.5" width="35.0" height="11.3" fill="url(#pFirm)" stroke="#000" stroke-width="1.2"/>
<rect x="114.5" y="499.0" width="35.0" height="11.3" fill="#fff" stroke="#000" stroke-width="1.2"/>
<path d="M116.5,510.3 L127.5,499.0 M132.5,510.3 L143.5,499.0" stroke="#000" stroke-width="1.3"/>
<rect x="114.5" y="517.5" width="35.0" height="11.5" fill="url(#pPH)" stroke="#000" stroke-width="1.2"/>
<line x1="114.50" y1="541.50" x2="149.50" y2="541.50" stroke="#000" stroke-width="1.3"/>
<circle cx="131.5" cy="541.5" r="4.6" fill="#000"/>
<line x1="114.50" y1="560.20" x2="149.50" y2="560.20" stroke="#000" stroke-width="1.3"/>
<circle cx="131.5" cy="560.2" r="3.9" fill="#fff" stroke="#000" stroke-width="1.2"/>
<text transform="translate(157.00,491.60) scale(0.9346,1)" font-size="15.94" font-weight="normal" text-anchor="start" >Fruit firmness (kg/cm2)</text>
<text transform="translate(157.00,510.20) scale(0.9346,1)" font-size="15.94" font-weight="normal" text-anchor="start" >Total Soluble Solid (oBrix)</text>
<text transform="translate(157.00,529.10) scale(0.9346,1)" font-size="15.94" font-weight="normal" text-anchor="start" >Fruit juice pH</text>
<text transform="translate(157.00,547.10) scale(0.9346,1)" font-size="15.94" font-weight="normal" text-anchor="start" >Titratable acidity (%)</text>
<text transform="translate(157.00,565.10) scale(0.9346,1)" font-size="15.94" font-weight="normal" text-anchor="start" >Ascorbic acid (mg/100g)</text>
<text transform="translate(405.00,506.70) scale(1.0000,1)" font-size="27.00" font-weight="bold" text-anchor="middle" >(b)</text>
<text transform="translate(32.7,927.7) rotate(-90)" font-size="17.7" font-weight="bold">Fruit firmness,Total Soluble Solid and Fruit juice pH</text>
<text transform="translate(681.2,858.0) rotate(-90)" font-size="17.8" font-weight="bold">Titratable acidity and Ascorbic acid</text>
</svg>
</body></html>
